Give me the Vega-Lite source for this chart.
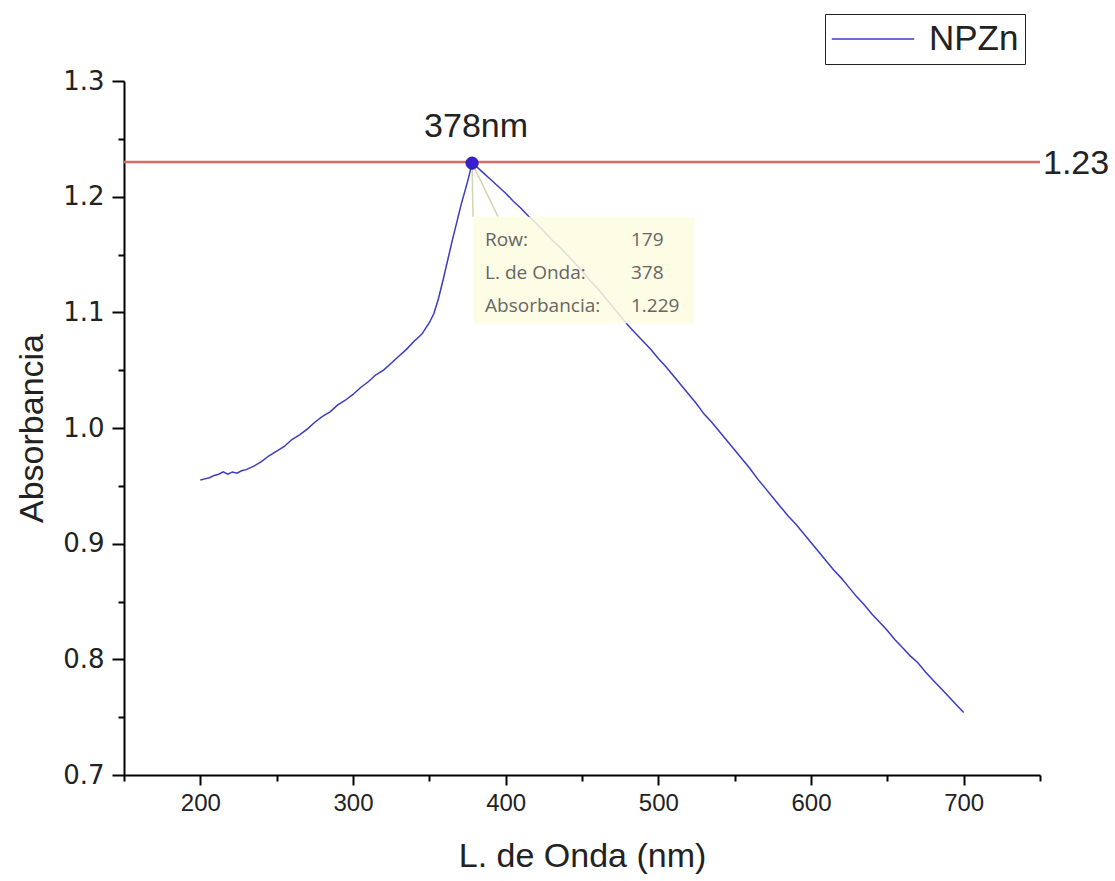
{
  "$schema": "https://vega.github.io/schema/vega-lite/v6.json",
  "width": 916,
  "height": 694,
  "autosize": "none",
  "padding": {"left": 124, "top": 81, "right": 75, "bottom": 106},
  "background": "white",
  "config": {"view": {"stroke": null}, "font": "Liberation Sans"},
  "datasets": {
    "spec": [
      {"wl": 200, "abs": 0.955, "serie": "NPZn"},
      {"wl": 203, "abs": 0.956, "serie": "NPZn"},
      {"wl": 206, "abs": 0.957, "serie": "NPZn"},
      {"wl": 209, "abs": 0.959, "serie": "NPZn"},
      {"wl": 212, "abs": 0.960, "serie": "NPZn"},
      {"wl": 215, "abs": 0.962, "serie": "NPZn"},
      {"wl": 218, "abs": 0.960, "serie": "NPZn"},
      {"wl": 221, "abs": 0.962, "serie": "NPZn"},
      {"wl": 224, "abs": 0.961, "serie": "NPZn"},
      {"wl": 227, "abs": 0.963, "serie": "NPZn"},
      {"wl": 230, "abs": 0.964, "serie": "NPZn"},
      {"wl": 235, "abs": 0.967, "serie": "NPZn"},
      {"wl": 240, "abs": 0.971, "serie": "NPZn"},
      {"wl": 245, "abs": 0.976, "serie": "NPZn"},
      {"wl": 250, "abs": 0.980, "serie": "NPZn"},
      {"wl": 255, "abs": 0.984, "serie": "NPZn"},
      {"wl": 260, "abs": 0.990, "serie": "NPZn"},
      {"wl": 265, "abs": 0.994, "serie": "NPZn"},
      {"wl": 270, "abs": 0.999, "serie": "NPZn"},
      {"wl": 275, "abs": 1.005, "serie": "NPZn"},
      {"wl": 280, "abs": 1.010, "serie": "NPZn"},
      {"wl": 285, "abs": 1.014, "serie": "NPZn"},
      {"wl": 290, "abs": 1.020, "serie": "NPZn"},
      {"wl": 295, "abs": 1.024, "serie": "NPZn"},
      {"wl": 300, "abs": 1.029, "serie": "NPZn"},
      {"wl": 305, "abs": 1.035, "serie": "NPZn"},
      {"wl": 310, "abs": 1.040, "serie": "NPZn"},
      {"wl": 315, "abs": 1.046, "serie": "NPZn"},
      {"wl": 320, "abs": 1.050, "serie": "NPZn"},
      {"wl": 325, "abs": 1.056, "serie": "NPZn"},
      {"wl": 330, "abs": 1.062, "serie": "NPZn"},
      {"wl": 335, "abs": 1.068, "serie": "NPZn"},
      {"wl": 340, "abs": 1.075, "serie": "NPZn"},
      {"wl": 345, "abs": 1.081, "serie": "NPZn"},
      {"wl": 350, "abs": 1.091, "serie": "NPZn"},
      {"wl": 353, "abs": 1.099, "serie": "NPZn"},
      {"wl": 356, "abs": 1.112, "serie": "NPZn"},
      {"wl": 359, "abs": 1.128, "serie": "NPZn"},
      {"wl": 362, "abs": 1.145, "serie": "NPZn"},
      {"wl": 365, "abs": 1.162, "serie": "NPZn"},
      {"wl": 368, "abs": 1.178, "serie": "NPZn"},
      {"wl": 371, "abs": 1.194, "serie": "NPZn"},
      {"wl": 374, "abs": 1.208, "serie": "NPZn"},
      {"wl": 376, "abs": 1.218, "serie": "NPZn"},
      {"wl": 378, "abs": 1.229, "serie": "NPZn"},
      {"wl": 380, "abs": 1.227, "serie": "NPZn"},
      {"wl": 385, "abs": 1.221, "serie": "NPZn"},
      {"wl": 390, "abs": 1.215, "serie": "NPZn"},
      {"wl": 395, "abs": 1.209, "serie": "NPZn"},
      {"wl": 400, "abs": 1.203, "serie": "NPZn"},
      {"wl": 405, "abs": 1.196, "serie": "NPZn"},
      {"wl": 410, "abs": 1.190, "serie": "NPZn"},
      {"wl": 415, "abs": 1.183, "serie": "NPZn"},
      {"wl": 420, "abs": 1.177, "serie": "NPZn"},
      {"wl": 425, "abs": 1.170, "serie": "NPZn"},
      {"wl": 430, "abs": 1.163, "serie": "NPZn"},
      {"wl": 435, "abs": 1.157, "serie": "NPZn"},
      {"wl": 440, "abs": 1.150, "serie": "NPZn"},
      {"wl": 445, "abs": 1.143, "serie": "NPZn"},
      {"wl": 450, "abs": 1.136, "serie": "NPZn"},
      {"wl": 455, "abs": 1.128, "serie": "NPZn"},
      {"wl": 460, "abs": 1.121, "serie": "NPZn"},
      {"wl": 465, "abs": 1.113, "serie": "NPZn"},
      {"wl": 470, "abs": 1.105, "serie": "NPZn"},
      {"wl": 475, "abs": 1.097, "serie": "NPZn"},
      {"wl": 480, "abs": 1.089, "serie": "NPZn"},
      {"wl": 485, "abs": 1.082, "serie": "NPZn"},
      {"wl": 490, "abs": 1.075, "serie": "NPZn"},
      {"wl": 495, "abs": 1.068, "serie": "NPZn"},
      {"wl": 500, "abs": 1.060, "serie": "NPZn"},
      {"wl": 505, "abs": 1.053, "serie": "NPZn"},
      {"wl": 510, "abs": 1.045, "serie": "NPZn"},
      {"wl": 515, "abs": 1.037, "serie": "NPZn"},
      {"wl": 520, "abs": 1.029, "serie": "NPZn"},
      {"wl": 525, "abs": 1.021, "serie": "NPZn"},
      {"wl": 530, "abs": 1.012, "serie": "NPZn"},
      {"wl": 535, "abs": 1.005, "serie": "NPZn"},
      {"wl": 540, "abs": 0.997, "serie": "NPZn"},
      {"wl": 545, "abs": 0.989, "serie": "NPZn"},
      {"wl": 550, "abs": 0.981, "serie": "NPZn"},
      {"wl": 555, "abs": 0.973, "serie": "NPZn"},
      {"wl": 560, "abs": 0.965, "serie": "NPZn"},
      {"wl": 565, "abs": 0.956, "serie": "NPZn"},
      {"wl": 570, "abs": 0.948, "serie": "NPZn"},
      {"wl": 575, "abs": 0.940, "serie": "NPZn"},
      {"wl": 580, "abs": 0.932, "serie": "NPZn"},
      {"wl": 585, "abs": 0.924, "serie": "NPZn"},
      {"wl": 590, "abs": 0.917, "serie": "NPZn"},
      {"wl": 595, "abs": 0.909, "serie": "NPZn"},
      {"wl": 600, "abs": 0.901, "serie": "NPZn"},
      {"wl": 605, "abs": 0.893, "serie": "NPZn"},
      {"wl": 610, "abs": 0.885, "serie": "NPZn"},
      {"wl": 615, "abs": 0.877, "serie": "NPZn"},
      {"wl": 620, "abs": 0.870, "serie": "NPZn"},
      {"wl": 625, "abs": 0.862, "serie": "NPZn"},
      {"wl": 630, "abs": 0.854, "serie": "NPZn"},
      {"wl": 635, "abs": 0.847, "serie": "NPZn"},
      {"wl": 640, "abs": 0.839, "serie": "NPZn"},
      {"wl": 645, "abs": 0.832, "serie": "NPZn"},
      {"wl": 650, "abs": 0.825, "serie": "NPZn"},
      {"wl": 655, "abs": 0.817, "serie": "NPZn"},
      {"wl": 660, "abs": 0.810, "serie": "NPZn"},
      {"wl": 665, "abs": 0.803, "serie": "NPZn"},
      {"wl": 670, "abs": 0.797, "serie": "NPZn"},
      {"wl": 675, "abs": 0.789, "serie": "NPZn"},
      {"wl": 680, "abs": 0.782, "serie": "NPZn"},
      {"wl": 685, "abs": 0.775, "serie": "NPZn"},
      {"wl": 690, "abs": 0.768, "serie": "NPZn"},
      {"wl": 695, "abs": 0.761, "serie": "NPZn"},
      {"wl": 700, "abs": 0.754, "serie": "NPZn"}
    ],
    "peak": [{"wl": 378, "abs": 1.229, "label": "378nm"}],
    "hline": [{"wl": 150, "wl2": 750, "abs": 1.23}],
    "hlabel": [{"wl": 750, "abs": 1.23, "label": "1.23"}],
    "leaders": [
      {"wl": 378, "abs": 1.229, "wl2": 378.6, "abs2": 1.1827},
      {"wl": 378, "abs": 1.229, "wl2": 395.0, "abs2": 1.1827}
    ],
    "tipbox": [{"wl": 378.8, "wl2": 523.4, "abs": 1.1827, "abs2": 1.0905}],
    "tiptext": [
      {"wl": 386.5, "abs": 1.1573, "txt": "Row:"},
      {"wl": 386.5, "abs": 1.1288, "txt": "L. de Onda:"},
      {"wl": 386.5, "abs": 1.1003, "txt": "Absorbancia:"},
      {"wl": 482.1, "abs": 1.1573, "txt": "179"},
      {"wl": 482.1, "abs": 1.1288, "txt": "378"},
      {"wl": 482.1, "abs": 1.1003, "txt": "1.229"}
    ]
  },
  "encoding": {
    "x": {
      "field": "wl", "type": "quantitative",
      "scale": {"domain": [150, 750], "nice": false, "zero": false},
      "axis": {
        "title": "L. de Onda (nm)",
        "values": [150, 200, 250, 300, 350, 400, 450, 500, 550, 600, 650, 700, 750],
        "format": "d",
        "labelExpr": "datum.value % 100 === 0 ? datum.label : ''",
        "tickSize": {"condition": {"test": "datum.value % 100 === 0", "value": 10}, "value": 6},
        "grid": false,
        "domainColor": "black", "domainWidth": 2,
        "tickColor": "black", "tickWidth": 2,
        "labelFont": "Liberation Sans", "labelFontSize": 24, "labelColor": "#222",
        "labelPadding": 6, "labelFlush": false, "labelOverlap": false,
        "titleFont": "Liberation Sans", "titleFontSize": 34, "titleFontWeight": "normal", "titleColor": "#222",
        "titleX": 458, "titleY": 91, "titleBaseline": "alphabetic", "titleAlign": "center"
      }
    },
    "y": {
      "field": "abs", "type": "quantitative",
      "scale": {"domain": [0.7, 1.3], "nice": false, "zero": false},
      "axis": {
        "title": "Absorbancia",
        "values": [0.7, 0.75, 0.8, 0.85, 0.9, 0.95, 1.0, 1.05, 1.1, 1.15, 1.2, 1.25, 1.3],
        "labelExpr": "abs(datum.value*10 - round(datum.value*10)) < 0.01 ? format(datum.value, '.1f') : ''",
        "tickSize": {"condition": {"test": "abs(datum.value*10 - round(datum.value*10)) < 0.01", "value": 12}, "value": 6},
        "grid": false,
        "domainColor": "black", "domainWidth": 2,
        "tickColor": "black", "tickWidth": 2,
        "labelFont": "DejaVu Sans", "labelFontSize": 26, "labelColor": "#222",
        "labelPadding": 8, "labelFlush": false, "labelOverlap": false,
        "titleFont": "Liberation Sans", "titleFontSize": 34, "titleFontWeight": "normal", "titleColor": "#222",
        "titleAngle": -90, "titleX": -82, "titleY": 347, "titleBaseline": "alphabetic", "titleAlign": "center"
      }
    }
  },
  "layer": [
    {
      "data": {"name": "hline"},
      "mark": {"type": "rule", "color": "#d96b6b", "strokeWidth": 2.5},
      "encoding": {"x2": {"field": "wl2"}}
    },
    {
      "data": {"name": "spec"},
      "mark": {"type": "line", "strokeWidth": 1.5},
      "encoding": {
        "color": {
          "field": "serie", "type": "nominal",
          "scale": {"domain": ["NPZn"], "range": ["#3b3bc4"]},
          "legend": {
            "title": null,
            "orient": "none",
            "legendX": 701,
            "legendY": -67,
            "padding": 6,
            "strokeColor": "#222",
            "symbolType": "stroke",
            "symbolSize": 6800,
            "symbolStrokeWidth": 1.5,
            "clipHeight": 38,
            "labelFont": "Liberation Sans",
            "labelFontSize": 35,
            "labelColor": "#222",
            "labelOffset": 14
          }
        }
      }
    },
    {
      "data": {"name": "leaders"},
      "mark": {"type": "rule", "color": "#d6d3b0", "strokeWidth": 1.5},
      "encoding": {"x2": {"field": "wl2"}, "y2": {"field": "abs2"}}
    },
    {
      "data": {"name": "tipbox"},
      "mark": {"type": "rect", "color": "#fdfbe0", "opacity": 0.85},
      "encoding": {"x2": {"field": "wl2"}, "y2": {"field": "abs2"}}
    },
    {
      "data": {"name": "tiptext"},
      "mark": {"type": "text", "align": "left", "baseline": "alphabetic", "font": "Open Sans", "fontSize": 19, "color": "#666"},
      "encoding": {"text": {"field": "txt"}}
    },
    {
      "data": {"name": "peak"},
      "mark": {"type": "point", "shape": "circle", "filled": true, "opacity": 1, "size": 150, "color": "#3a1fd0", "stroke": "#2a1aa0", "strokeWidth": 1},
      "encoding": {}
    },
    {
      "data": {"name": "peak"},
      "mark": {"type": "text", "align": "center", "baseline": "alphabetic", "dx": 4, "dy": -26, "font": "Liberation Sans", "fontSize": 34, "color": "#222"},
      "encoding": {"text": {"field": "label"}}
    },
    {
      "data": {"name": "hlabel"},
      "mark": {"type": "text", "align": "left", "baseline": "middle", "dx": 3, "dy": 2, "font": "Liberation Sans", "fontSize": 34, "color": "#222"},
      "encoding": {"text": {"field": "label"}}
    }
  ]
}
